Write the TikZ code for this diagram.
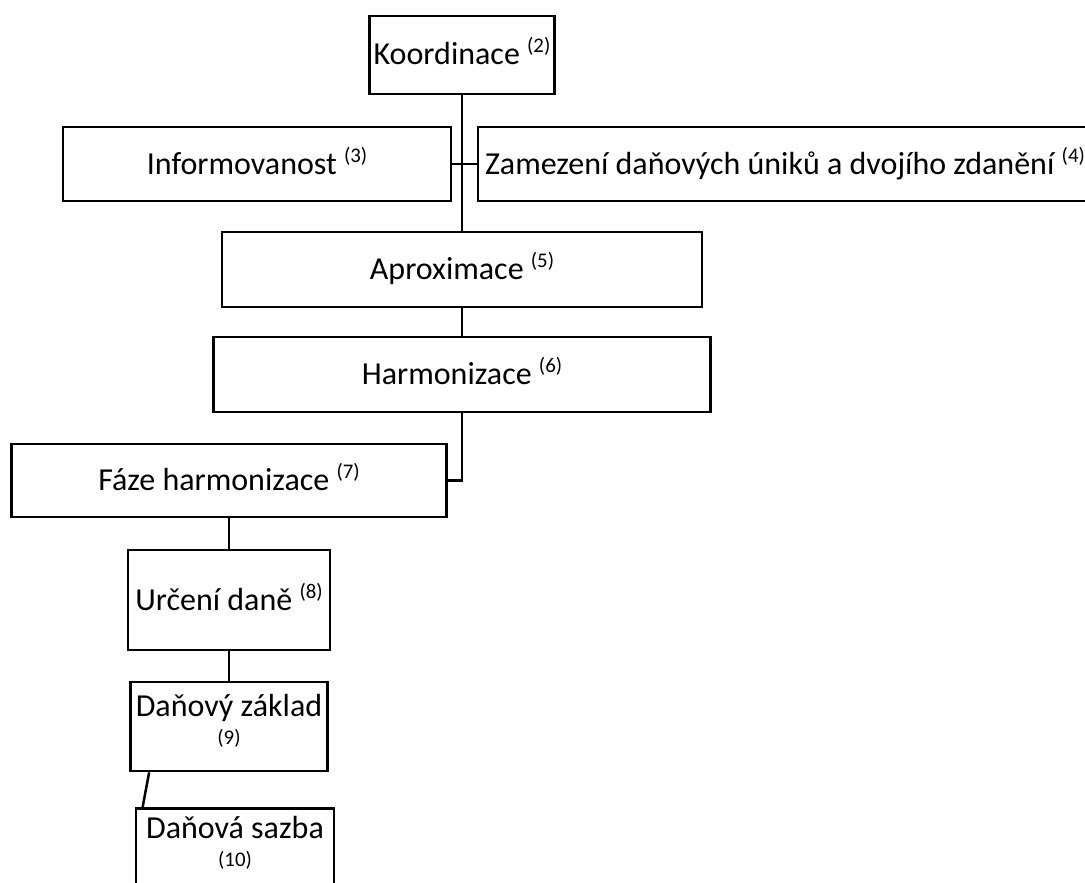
\documentclass[tikz,border=0pt]{standalone}
\usepackage{fontspec}
\setmainfont{Carlito}
\newcommand\supnum[1]{\raisebox{12pt}{\fontsize{20.8}{21}\selectfont(#1)}}
\newcommand\smallnum[1]{{\fontsize{20.8}{28}\selectfont(#1)}}
\begin{document}
\begin{tikzpicture}[x=1pt,y=-1pt,
  box/.style={draw=black, line width=2.7pt, inner sep=0pt, align=center,
    text height=20pt, text depth=0pt, font=\fontsize{32}{28}\selectfont},
  plainbox/.style={draw=black, line width=2.7pt, inner sep=0pt},
  lbl/.style={inner sep=0pt, align=center, anchor=north, font=\fontsize{32}{28}\selectfont},
  conn/.style={draw=black, line width=2.5pt}]
\useasboundingbox (0,0) rectangle (1085,883);
\clip (0,0) rectangle (1085,883);

\node[box, minimum width=185pt, minimum height=78pt] (koor) at (462,55) {Koordinace \supnum{2}};
\node[box, minimum width=388pt, minimum height=74pt] (info) at (257,164) {Informovanost \supnum{3}};
\node[box, minimum width=614pt, minimum height=74pt] (zam) at (785,164) {Zamezení daňových úniků a dvojího zdanění \supnum{4}};
\node[box, minimum width=480pt, minimum height=75pt] (apr) at (462,269.5) {Aproximace \supnum{5}};
\node[box, minimum width=497pt, minimum height=75pt] (harm) at (462,374.5) {Harmonizace \supnum{6}};
\node[box, minimum width=435pt, minimum height=73pt] (faze) at (229,480.5) {Fáze harmonizace \supnum{7}};
\node[box, minimum width=202pt, minimum height=100pt] (urc) at (229,600) {Určení daně \supnum{8}};
\node[plainbox, minimum width=197pt, minimum height=89pt] (dz) at (229,726.5) {};
\node[lbl] (dzt) at ([yshift=-13pt]dz.north) {Daňový základ\\\smallnum{9}};
\node[plainbox, minimum width=198pt, minimum height=100pt, anchor=north] (ds) at (235,807) {};
\node[lbl] (dst) at ([yshift=-9pt]ds.north) {Daňová sazba\\\smallnum{10}};

\draw[conn] (koor.south) -- (apr.north);
\draw[conn] (info.east) -- (zam.west);
\draw[conn] (apr.south) -- (harm.north);
\draw[conn] (harm.south) |- (faze.east);
\draw[conn] (faze.south) -- (urc.north);
\draw[conn] (urc.south) -- (dz.north);
\draw[conn] ([xshift=20pt]dz.south west) -- ([xshift=8pt]ds.north west);
\end{tikzpicture}
\end{document}
